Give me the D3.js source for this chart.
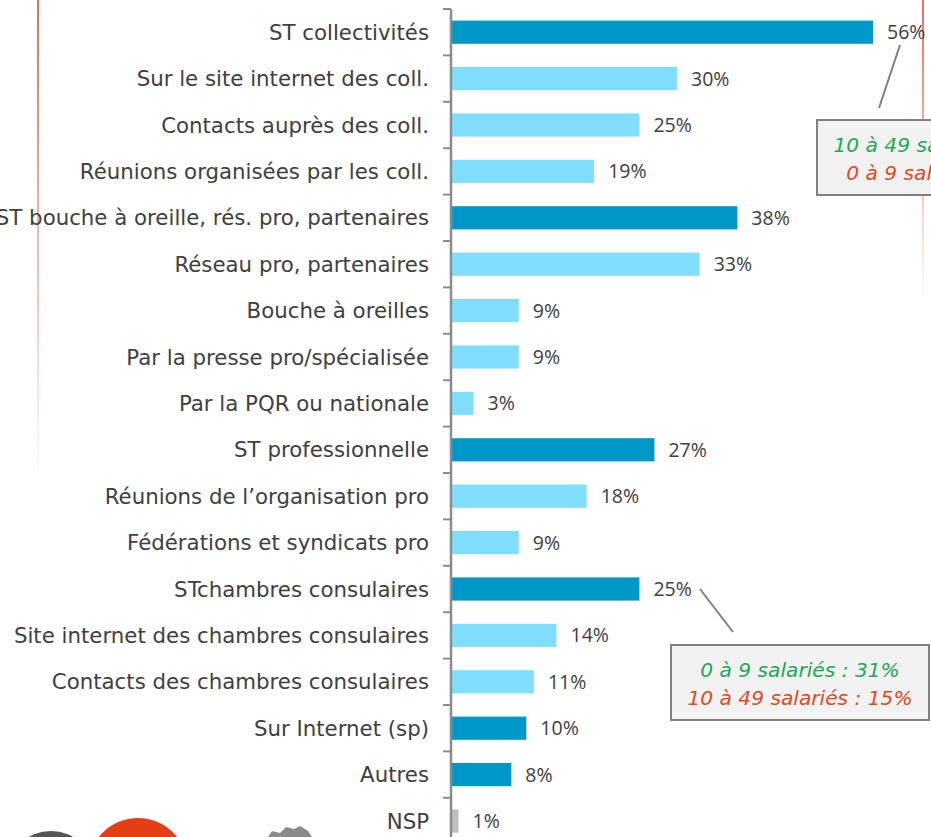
<!DOCTYPE html>
<html>
<head>
<meta charset="utf-8">
<script src="https://cdnjs.cloudflare.com/ajax/libs/d3/7.8.5/d3.min.js"></script>
<style>
body { margin: 0; background: #fff; }
.cat { font-family: "DejaVu Sans", sans-serif; font-size: 21.3px; fill: #404040; }
.pct { font-family: "Open Sans", sans-serif; font-size: 19.5px; fill: #404040; }
.note { font-family: "DejaVu Sans", sans-serif; font-style: italic; font-size: 20.2px; }
</style>
</head>
<body>
<script>
// categories top to bottom
var categories = ["ST collectivités", "Sur le site internet des coll.", "Contacts auprès des coll.",
  "Réunions organisées par les coll.", "ST bouche à oreille, rés. pro, partenaires", "Réseau pro, partenaires ",
  "Bouche à oreilles", "Par la presse pro/spécialisée", "Par la PQR ou nationale", "ST professionnelle",
  "Réunions de l’organisation pro", "Fédérations et syndicats pro", "STchambres consulaires",
  "Site internet des chambres consulaires", "Contacts des chambres consulaires", "Sur Internet (sp)",
  "Autres", "NSP"];
var values = [56, 30, 25, 19, 38, 33, 9, 9, 3, 27, 18, 9, 25, 14, 11, 10, 8, 1];
// d = sous-total (dark), l = detail (light), n = nsp (grey)
var kinds = ["d","l","l","l","d","l","l","l","l","d","l","l","d","l","l","d","d","n"];
var colors = {d: "#0097C9", l: "#80DFFF", n: "#BFBFBF"};

// call-out boxes (first one runs off the page)
var noteGreen = ["10 à 49 salariés : 64%", "0 à 9 salariés : 31%"];
var noteRed = ["0 à 9 salariés : 53%", "10 à 49 salariés : 15%"];

var width = 931, height = 837;
var axisX = 451;

var svg = d3.select("body").append("svg")
    .attr("width", width)
    .attr("height", height);

// fading red guide lines
var defs = svg.append("defs");
var grad = defs.append("linearGradient")
    .attr("id", "fade").attr("x1", 0).attr("y1", 0).attr("x2", 0).attr("y2", 1);
grad.append("stop").attr("offset", "0%").attr("stop-color", "#EE6A55").attr("stop-opacity", 1);
grad.append("stop").attr("offset", "100%").attr("stop-color", "#EE6A55").attr("stop-opacity", 0);
svg.append("rect").attr("x", 37).attr("y", 0).attr("width", 2).attr("height", 480).attr("fill", "url(#fade)");
svg.append("rect").attr("x", 922).attr("y", 0).attr("width", 2).attr("height", 300).attr("fill", "url(#fade)");

// scales
var y = d3.scaleBand()
    .domain(categories)
    .range([9, 9 + categories.length * 46.4])
    .paddingInner(0.5)
    .paddingOuter(0.25);
var x = d3.scaleLinear().domain([0, 56]).range([axisX, 873]);

// bars
svg.selectAll(".bar")
    .data(categories)
    .enter().append("rect")
    .attr("class", "bar")
    .attr("x", x(0))
    .attr("y", function(d) { return y(d); })
    .attr("width", function(d, i) { return x(values[i]) - x(0); })
    .attr("height", y.bandwidth())
    .attr("fill", function(d, i) { return colors[kinds[i]]; });

// value labels
svg.selectAll(".pct")
    .data(categories)
    .enter().append("text")
    .attr("class", "pct")
    .attr("x", function(d, i) { return x(values[i]) + 14; })
    .attr("y", function(d) { return y(d) + y.bandwidth() / 2; })
    .attr("dy", "0.36em")
    .text(function(d, i) { return values[i] + "%"; });

// y axis: line + ticks between bands
svg.append("line")
    .attr("x1", axisX).attr("x2", axisX)
    .attr("y1", 9).attr("y2", height)
    .attr("stroke", "#8C8C8C").attr("stroke-width", 2.5);
svg.selectAll(".tick")
    .data(d3.range(categories.length))
    .enter().append("line")
    .attr("x1", axisX - 8).attr("x2", axisX)
    .attr("y1", function(i) { return y(categories[i]) - y.bandwidth() * 0.5; })
    .attr("y2", function(i) { return y(categories[i]) - y.bandwidth() * 0.5; })
    .attr("stroke", "#8C8C8C").attr("stroke-width", 2);

svg.selectAll(".cat")
    .data(categories)
    .enter().append("text")
    .attr("class", "cat")
    .attr("x", axisX - 22)
    .attr("y", function(d) { return y(d) + y.bandwidth() / 2; })
    .attr("dy", "0.36em")
    .attr("text-anchor", "end")
    .text(function(d) { return d; });

// call-outs
var boxes = [{x: 817, y: 120, lx1: 900, ly1: 45, lx2: 879, ly2: 108},
             {x: 671, y: 645, lx1: 700, ly1: 589, lx2: 733, ly2: 632}];
boxes.forEach(function(b, i) {
    svg.append("line")
        .attr("x1", b.lx1).attr("y1", b.ly1).attr("x2", b.lx2).attr("y2", b.ly2)
        .attr("stroke", "#7F7F7F").attr("stroke-width", 2);
    svg.append("rect")
        .attr("x", b.x).attr("y", b.y).attr("width", 258).attr("height", 75)
        .attr("fill", "#F2F2F2").attr("stroke", "#808080").attr("stroke-width", 2);
    svg.append("text").attr("class", "note")
        .attr("x", b.x + 129).attr("y", b.y + 32)
        .attr("text-anchor", "middle").attr("fill", "#1DA955")
        .text(noteGreen[i]);
    svg.append("text").attr("class", "note")
        .attr("x", b.x + 129).attr("y", b.y + 60)
        .attr("text-anchor", "middle").attr("fill", "#E8461E")
        .text(noteRed[i]);
});

// logos peeking at the bottom
svg.append("circle").attr("cx", 51).attr("cy", 875).attr("r", 44).attr("fill", "#555555");
svg.append("circle").attr("cx", 138).attr("cy", 868).attr("r", 50).attr("fill", "#E53E15");
svg.append("path")
    .attr("d", "M268,837 L272,831 L280,833 L286,827 L294,829 L300,826 L308,831 L312,837 Z")
    .attr("fill", "#8A8A8A");
</script>
</body>
</html>
